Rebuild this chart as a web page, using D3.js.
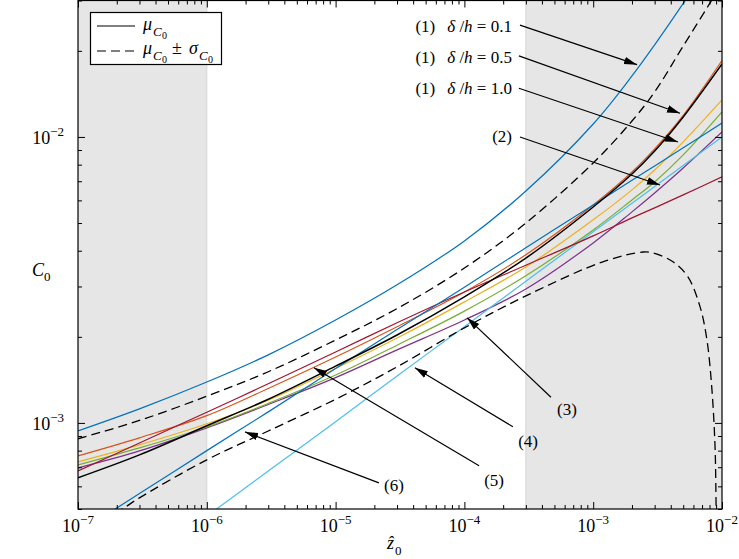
<!DOCTYPE html>
<html><head><meta charset="utf-8">
<script src="https://cdn.jsdelivr.net/npm/d3@7"></script>
<style>body{margin:0;background:#fff} svg{display:block}</style>
</head><body><svg id="c" width="739" height="559" font-family="'Liberation Serif', Tinos, 'Times New Roman', Times, serif"></svg>
<script>
// ---------- data ----------
const xGrid = [1e-7,3e-7,1e-6,3e-6,1e-5,3e-5,1e-4,3e-4,1e-3,2e-3,3e-3,5e-3,1e-2];
const dh01  = [9.38e-4,1.12e-3,1.39e-3,1.73e-3,2.29e-3,3.04e-3,4.33e-3,6.47e-3,1.110e-2,1.634e-2,2.10e-2,2.93e-2,4.73e-2];
const dh05  = [7.67e-4,8.87e-4,1.06e-3,1.32e-3,1.70e-3,2.17e-3,2.87e-3,3.87e-3,5.78e-3,7.54e-3,9.08e-3,1.19e-2,1.85e-2];
const dh10  = [7.31e-4,8.38e-4,9.93e-4,1.20e-3,1.55e-3,1.98e-3,2.65e-3,3.51e-3,5.13e-3,6.53e-3,7.66e-3,9.61e-3,1.347e-2];
const model2 = [6.96e-4,7.98e-4,9.61e-4,1.16e-3,1.44e-3,1.80e-3,2.29e-3,2.94e-3,4.26e-3,5.47e-3,6.37e-3,7.79e-3,1.041e-2];
const model3 = [7.13e-4,8.18e-4,9.68e-4,1.17e-3,1.47e-3,1.87e-3,2.46e-3,3.27e-3,4.73e-3,6.02e-3,6.96e-3,8.65e-3,1.223e-2];
const model4 = [2.2e-4,3.16e-4,4.72e-4,6.79e-4,1.01e-3,1.46e-3,2.17e-3,3.13e-3,4.66e-3,5.86e-3,6.71e-3,7.95e-3,1.0e-2];
const model5 = [6.79e-4,8.51e-4,1.09e-3,1.37e-3,1.77e-3,2.24e-3,2.87e-3,3.56e-3,4.51e-3,5.21e-3,5.65e-3,6.27e-3,7.25e-3];
const model6 = [4.13e-4,5.66e-4,8.00e-4,1.093e-3,1.55e-3,2.12e-3,2.98e-3,4.10e-3,5.78e-3,7.06e-3,7.92e-3,9.16e-3,1.118e-2];
const meanC0 = [6.43e-4,7.73e-4,9.77e-4,1.21e-3,1.58e-3,2.03e-3,2.76e-3,3.77e-3,5.69e-3,7.42e-3,8.93e-3,1.175e-2,1.80e-2];
const upperC0 = [8.80e-4,1.02e-3,1.24e-3,1.51e-3,1.95e-3,2.51e-3,3.48e-3,5.0e-3,8.11e-3,1.137e-2,1.437e-2,2.08e-2,3.43e-2];
const lowerX  = [1e-7,2.2e-7,3e-7,1e-6,3e-6,1e-5,3e-5,1e-4,3e-4,1.19e-3,2.44e-3,2.91e-3,4.16e-3,5.44e-3,6.75e-3,7.64e-3,8.36e-3,8.83e-3,8.98e-3,9.05e-3];
const lowerC0 = [4.1e-4,5.0e-4,5.47e-4,7.43e-4,9.37e-4,1.21e-3,1.57e-3,2.15e-3,2.78e-3,3.66e-3,3.96e-3,3.93e-3,3.66e-3,3.24e-3,2.55e-3,1.95e-3,1.30e-3,8.24e-4,5.51e-4,4.0e-4];
const shadeRanges = [[1e-7,1e-6],[3e-4,1e-2]];
const xMajor = [1e-7,1e-6,1e-5,1e-4,1e-3,1e-2];
const xExp = ["\u22127","\u22126","\u22125","\u22124","\u22123","\u22122"];
const yMajor = [1e-3,1e-2];
const yExp = ["\u22123","\u22122"];
const colors = ["#0072BD","#D95319","#EDB120","#7E2F8E","#77AC30","#4DBEEE","#A2142F","#0072BD"];
// annotations in data coordinates: [x1,y1,x2(tip),y2(tip)]
const arrows = [
  [2.70e-4,2.46e-2,2.19e-3,1.79e-2],
  [2.65e-4,1.92e-2,4.72e-3,1.21e-2],
  [2.65e-4,1.48e-2,4.55e-3,9.6e-3],
  [2.70e-4,1.0e-2,3.30e-3,6.79e-3],
  [4.70e-4,1.23e-3,1.05e-4,2.33e-3],
  [2.38e-4,9.69e-4,4.13e-5,1.56e-3],
  [1.30e-4,7.08e-4,6.79e-6,1.56e-3],
  [2.17e-5,6.17e-4,1.98e-6,9.30e-4]
];
const topLabels = [["(1)","0.1",2.34e-4,2.33e-2],["(1)","0.5",2.34e-4,1.81e-2],["(1)","1.0",2.34e-4,1.41e-2]];
const lowLabels = [["(2)",2.34e-4,9.6e-3,"end"],["(3)",6.26e-4,1.07e-3,"middle"],["(4)",3.12e-4,8.24e-4,"middle"],["(5)",1.70e-4,6.02e-4,"middle"],["(6)",2.84e-5,5.78e-4,"middle"]];

// ---------- chart ----------
const svg = d3.select("#c");
const L=78,R=722,T=0.5,B=509;
const x = d3.scaleLog().domain([1e-7,1e-2]).range([L,R]);
const y = d3.scaleLog().domain([5e-4,3e-2]).range([B,T]);

svg.append("defs").append("clipPath").attr("id","clip").append("rect")
  .attr("x",L).attr("y",T).attr("width",R-L).attr("height",B-T);
const mk = svg.select("defs").append("marker").attr("id","arr")
  .attr("viewBox","0 0 12 10").attr("refX",12).attr("refY",5)
  .attr("markerWidth",13).attr("markerHeight",11).attr("markerUnits","userSpaceOnUse")
  .attr("orient","auto");
mk.append("path").attr("d","M0,1.5 L12,5 L0,8.5 Z").attr("fill","#000");

const plot = svg.append("g").attr("clip-path","url(#clip)");
plot.selectAll("rect.shade").data(shadeRanges).join("rect").attr("class","shade")
  .attr("x",d=>x(d[0])).attr("width",d=>x(d[1])-x(d[0]))
  .attr("y",T).attr("height",B-T).attr("fill","#e6e6e6");
plot.selectAll("line.edge").data([1e-6,3e-4]).join("line").attr("class","edge")
  .attr("x1",d=>x(d)).attr("x2",d=>x(d)).attr("y1",T).attr("y2",B)
  .attr("stroke","#d6d6d6").attr("stroke-width",1);

const line = d3.line().x(d=>x(d[0])).y(d=>y(d[1])).curve(d3.curveCatmullRom.alpha(0.5));
const series = [dh01,dh05,dh10,model2,model3,model4,model5,model6];
series.forEach((s,i)=>{
  plot.append("path").datum(xGrid.map((xv,j)=>[xv,s[j]]))
    .attr("d",line).attr("fill","none").attr("stroke",colors[i]).attr("stroke-width",1.2);
});
plot.append("path").datum(xGrid.map((xv,j)=>[xv,upperC0[j]]))
  .attr("d",line).attr("fill","none").attr("stroke","#000").attr("stroke-width",1.3).attr("stroke-dasharray","9,5");
plot.append("path").datum(lowerX.map((xv,j)=>[xv,lowerC0[j]]))
  .attr("d",line).attr("fill","none").attr("stroke","#000").attr("stroke-width",1.3).attr("stroke-dasharray","9,5");
plot.append("path").datum(xGrid.map((xv,j)=>[xv,meanC0[j]]))
  .attr("d",line).attr("fill","none").attr("stroke","#000").attr("stroke-width",1.5);

// arrows
svg.selectAll("line.arr").data(arrows).join("line").attr("class","arr")
  .attr("x1",d=>x(d[0])).attr("y1",d=>y(d[1])).attr("x2",d=>x(d[2])).attr("y2",d=>y(d[3]))
  .attr("stroke","#000").attr("stroke-width",1.2).attr("marker-end","url(#arr)");

// labels
topLabels.forEach(d=>{
  const t = svg.append("text").attr("x",x(d[2])).attr("y",y(d[3])).attr("text-anchor","end").attr("font-size",17);
  t.append("tspan").text(d[0]);
  t.append("tspan").attr("dx",12).attr("font-style","italic").text("\u03b4");
  t.append("tspan").text(" /");
  t.append("tspan").attr("font-style","italic").text("h");
  t.append("tspan").text(" = "+d[1]);
});
lowLabels.forEach(d=>{
  svg.append("text").attr("x",x(d[1])).attr("y",y(d[2])).attr("text-anchor",d[3]).attr("font-size",17).text(d[0]);
});

// minor tick values
const xMinor=[], yMinor=[];
for(let e=-7;e<-2;e++) for(let k=2;k<=9;k++) xMinor.push(k*Math.pow(10,e));
for(let e=-4;e<-1;e++) for(let k=2;k<=9;k++){const v=k*Math.pow(10,e); if(v>=5e-4&&v<=3e-2) yMinor.push(v);}

function ax(gen, pos, vals, size){
  const g = svg.append("g").attr("transform",pos).call(gen.tickValues(vals).tickSizeInner(size).tickSizeOuter(0).tickFormat(""));
  g.select(".domain").remove();
  g.selectAll(".tick line").attr("stroke","#000").attr("stroke-width",1);
  return g;
}
ax(d3.axisBottom(x),`translate(0,${B})`,xMajor,-7);
ax(d3.axisBottom(x),`translate(0,${B})`,xMinor,-4);
ax(d3.axisTop(x),`translate(0,${T})`,xMajor,-7);
ax(d3.axisTop(x),`translate(0,${T})`,xMinor,-4);
ax(d3.axisLeft(y),`translate(${L},0)`,yMajor,-7);
ax(d3.axisLeft(y),`translate(${L},0)`,yMinor,-4);
ax(d3.axisRight(y),`translate(${R},0)`,yMajor,-7);
ax(d3.axisRight(y),`translate(${R},0)`,yMinor,-4);

svg.append("rect").attr("x",L).attr("y",T).attr("width",R-L).attr("height",B-T)
  .attr("fill","none").attr("stroke","#000").attr("stroke-width",1.2);

// tick labels
xMajor.forEach((v,i)=>{
  const t = svg.append("text").attr("x",x(v)).attr("y",532).attr("text-anchor","middle").attr("font-size",18);
  t.append("tspan").text("10");
  t.append("tspan").attr("dy",-8).attr("font-size",13).text(xExp[i]);
});
yMajor.forEach((v,i)=>{
  const t = svg.append("text").attr("x",64).attr("y",y(v)+7).attr("text-anchor","end").attr("font-size",18);
  t.append("tspan").text("10");
  t.append("tspan").attr("dy",-8).attr("font-size",13).text(yExp[i]);
});

// axis titles
svg.append("text").attr("x",32).attr("y",276).attr("font-size",18).attr("font-style","italic").text("C");
svg.append("text").attr("x",44).attr("y",281).attr("font-size",13).text("0");
svg.append("text").attr("x",387).attr("y",549).attr("font-size",18).attr("font-style","italic").text("\u1e91");
svg.append("text").attr("x",395).attr("y",555).attr("font-size",13).text("0");

// legend
const lg = svg.append("g");
lg.append("rect").attr("x",90.5).attr("y",12.5).attr("width",131).attr("height",52).attr("fill","#fff").attr("stroke","#000").attr("stroke-width",1.2);
lg.append("line").attr("x1",97).attr("x2",135).attr("y1",26).attr("y2",26).attr("stroke","#000").attr("stroke-width",1.2);
lg.append("line").attr("x1",97).attr("x2",135).attr("y1",51).attr("y2",51).attr("stroke","#000").attr("stroke-width",1.2).attr("stroke-dasharray","9,5");
function sym(gx,base,ch){
  lg.append("text").attr("x",gx).attr("y",base).attr("font-size",18).attr("font-style","italic").text(ch);
  lg.append("text").attr("x",gx+10).attr("y",base+6).attr("font-size",13).attr("font-style","italic").text("C");
  lg.append("text").attr("x",gx+19).attr("y",base+9).attr("font-size",10).text("0");
}
sym(143,30,"\u03bc");
sym(143,54,"\u03bc");
lg.append("text").attr("x",172).attr("y",54).attr("font-size",18).text("\u00b1");
sym(189,54,"\u03c3");
</script></body></html>
